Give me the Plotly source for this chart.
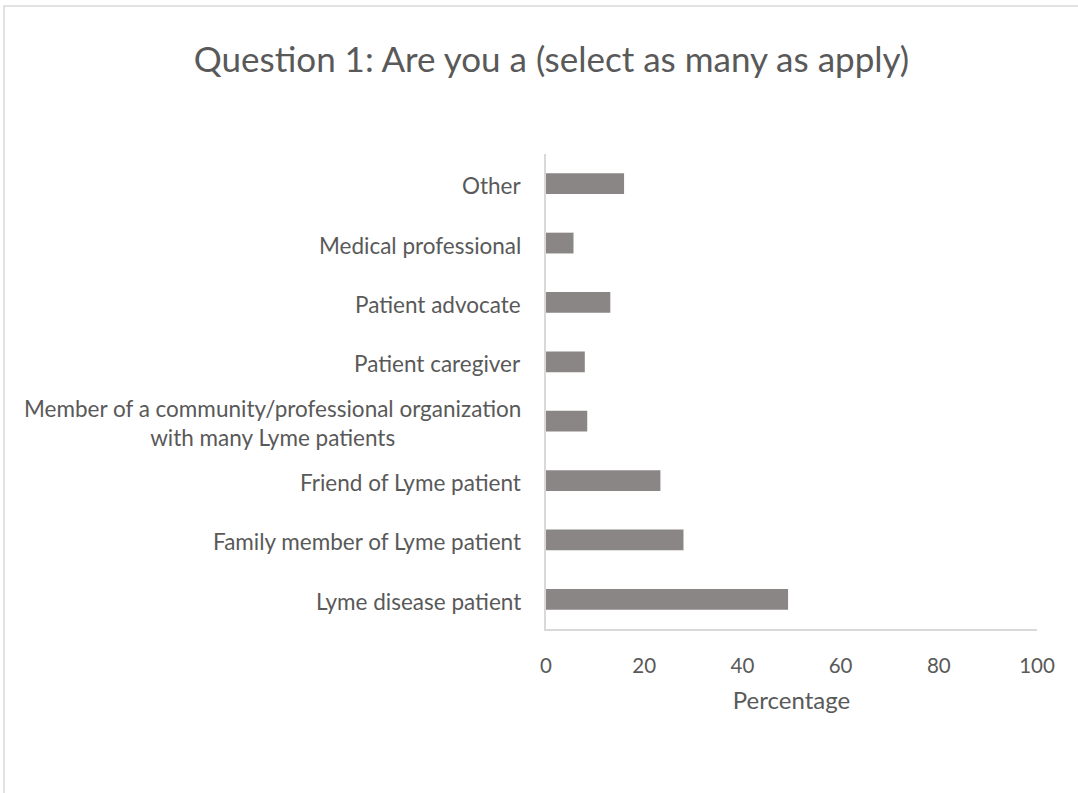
import plotly.graph_objects as go

# Survey responses (percentage of respondents), bottom to top
categories = [
    "Lyme disease patient",
    "Family member of Lyme patient",
    "Friend of Lyme patient",
    "Member of a community/professional organization<br>with many Lyme patients",
    "Patient caregiver",
    "Patient advocate",
    "Medical professional",
    "Other",
]
percentages = [49.3, 28.0, 23.3, 8.4, 7.9, 13.1, 5.6, 15.9]
x_ticks = [0, 20, 40, 60, 80, 100]

TEXT = "#595959"
AXIS = "#d9d9d9"
FONT = "Lato"

fig = go.Figure(
    go.Bar(
        x=percentages,
        y=categories,
        orientation="h",
        width=0.35,
        marker=dict(color="#8a8685", line=dict(width=0)),
        hoverinfo="x+y",
    )
)

# Category labels: right-aligned block, lines centred within it
annotations = [
    dict(
        text=c, x=0, y=c, xref="paper", yref="y",
        xanchor="right", yanchor="middle", xshift=-23, yshift=-2, align="center",
        showarrow=False, font=dict(family=FONT, size=22.5, color=TEXT),
    )
    for c in categories
]

fig.update_layout(
    width=1078,
    height=793,
    margin=dict(l=546, r=41, t=154, b=164),
    paper_bgcolor="white",
    plot_bgcolor="white",
    showlegend=False,
    title=dict(
        text="Question 1: Are you a (select as many as apply)",
        x=0.5116, xanchor="center", y=0.925, yanchor="middle",
        font=dict(family=FONT, size=35, color=TEXT),
    ),
    xaxis=dict(
        range=[0, 100], tickvals=x_ticks, showgrid=False, zeroline=False,
        showline=True, linecolor=AXIS, linewidth=1.5, ticks="",
        tickfont=dict(family=FONT, size=20.5, color=TEXT), ticklabelstandoff=18,
        title=dict(text="Percentage", font=dict(family=FONT, size=24, color=TEXT), standoff=16),
        fixedrange=True,
    ),
    yaxis=dict(
        categoryorder="array", categoryarray=categories, showticklabels=False,
        showgrid=False, zeroline=False, showline=True, linecolor=AXIS, linewidth=1.5,
        ticks="", fixedrange=True,
    ),
    annotations=annotations,
    shapes=[
        # chart frame
        dict(type="rect", xref="paper", yref="paper", x0=-542 / 491, x1=41 / 491 + 1.2,
             y0=-0.5, y1=1 + 148 / 475, line=dict(color=AXIS, width=1.5), layer="below"),
    ],
)

fig.write_html("out.html")
